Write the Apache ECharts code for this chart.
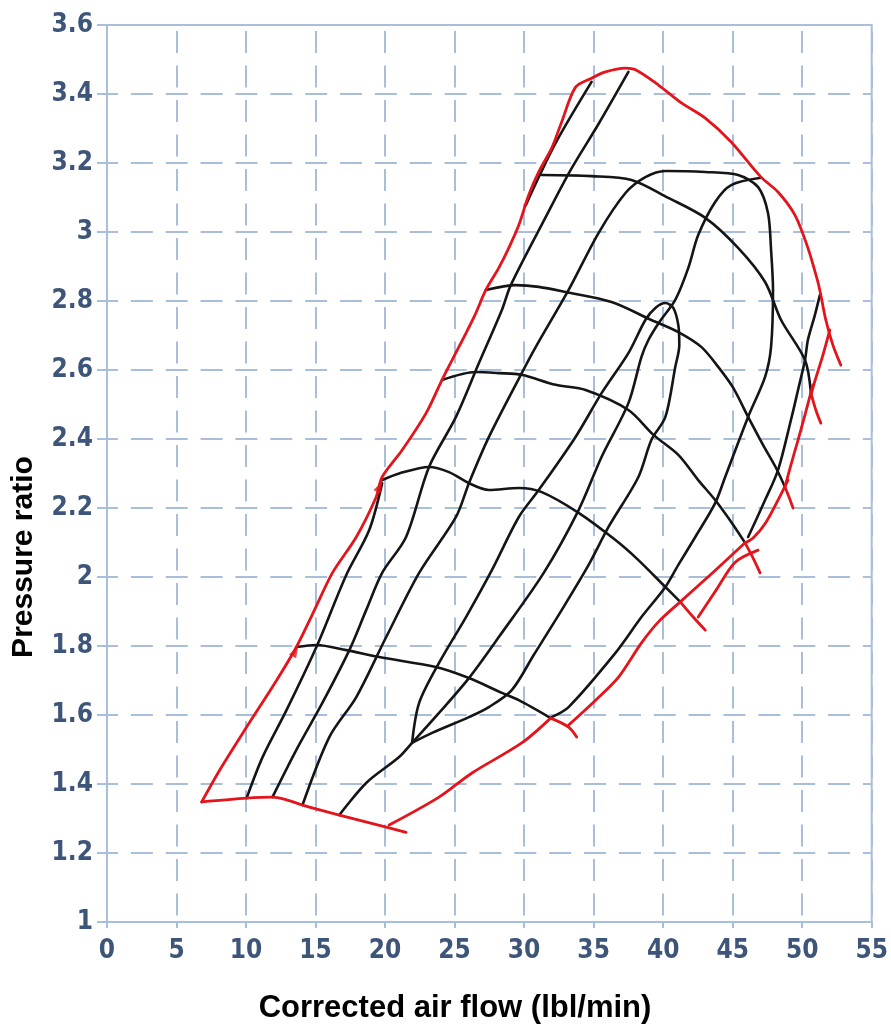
<!DOCTYPE html>
<html>
<head>
<meta charset="utf-8">
<title>Compressor map</title>
<script src="https://cdn.jsdelivr.net/npm/echarts/dist/echarts.min.js"></script>
<style>
  html, body { margin: 0; padding: 0; background: #ffffff; }
  #chart { width: 891px; height: 1025px; }
</style>
</head>
<body>
<div id="chart"></div>
<script>
// ---- axes ----
const xRange = { min: 0, max: 55, step: 5 };
const yRange = { min: 1, max: 3.6, step: 0.2 };
const xTitle = 'Corrected air flow (lbl/min)';
const yTitle = 'Pressure ratio';

// ---- red boundaries: surge line + crest, base line, choke strokes (flow, pressure ratio) ----
const surgeAndCrest = [
  [6.81,1.348],[8.10,1.44],[10.04,1.565],[12.19,1.70],[13.62,1.797],[14.92,1.904],[16.21,2.012],
  [17.93,2.116],[19.36,2.232],[19.79,2.290],[21.23,2.368],[22.95,2.475],[24.09,2.571],[25.82,2.707],
  [26.46,2.759],[27.25,2.832],[28.18,2.896],[28.90,2.954],[29.62,3.020],[30.33,3.107],[31.05,3.174],
  [31.98,3.243],[32.70,3.319],[33.70,3.420],[34.85,3.446],[35.85,3.464],[37.29,3.475],[38.01,3.470],
  [39.66,3.426],[41.31,3.374],[43.03,3.330],[44.89,3.261],[47.04,3.159],[48.26,3.116],[49.48,3.049],
  [50.41,2.954],[51.13,2.855],[51.34,2.817],[51.70,2.745],[52.21,2.672],[52.78,2.614]
];
// small arrowheads drawn on the surge line
const surgeArrows = [[19.62,2.262],[13.55,1.785]];
const baseLine = [
  [6.81,1.348],[10.04,1.359],[11.90,1.362],[12.91,1.354],[14.06,1.339],[16.71,1.310],[20.08,1.275],[21.51,1.26]
];
const chokeA = [[51.99,2.716],[51.49,2.643],[50.98,2.577],[50.63,2.528]];
const chokeB = [[50.77,2.557],[50.20,2.470],[49.70,2.397],[49.19,2.325],[48.76,2.261]];
const chokeC = [[48.98,2.281],[48.26,2.223],[47.40,2.159],[46.47,2.113],[45.89,2.099]];
const chokeD = [[46.83,2.078],[45.18,2.043],[43.81,1.962],[42.52,1.884]];
const chokeE = [[45.89,2.099],[43.60,2.014],[41.23,1.928],[39.66,1.870],[38.44,1.809],[36.79,1.710],[35.14,1.643],[33.20,1.571]];
const chokeF = [[31.91,1.591],[29.83,1.519],[26.25,1.432],[23.88,1.362],[20.29,1.281]];
// short end ticks where speed lines meet the choke line
const tick5 = [[50.63,2.533],[50.98,2.484],[51.34,2.446]];
const tick4 = [[48.76,2.261],[49.05,2.232],[49.34,2.200]];
const tick3 = [[45.89,2.099],[46.47,2.055],[46.97,2.012]];
const tick2 = [[41.23,1.928],[42.16,1.884],[43.03,1.846]];
const tick1 = [[31.91,1.591],[33.20,1.565],[33.78,1.536]];

// ---- speed lines ----
const speed1 = [[13.62,1.797],[15.06,1.803],[17.21,1.788],[19.58,1.768],[23.66,1.739],[26.03,1.707],[28.40,1.664],[29.62,1.643],[31.91,1.591]];
const speed2 = [[19.79,2.281],[21.01,2.300],[23.16,2.319],[24.60,2.304],[26.03,2.272],[27.47,2.252],[29.62,2.258],[31.27,2.246],[33.92,2.186],[36.57,2.107],[38.22,2.049],[40.16,1.971],[41.23,1.928]];
const speed3 = [[24.09,2.571],[26.53,2.594],[28.18,2.591],[29.83,2.586],[32.27,2.557],[34.42,2.542],[37.50,2.484],[39.30,2.412],[41.09,2.354],[42.52,2.281],[43.74,2.223],[45.04,2.151],[45.89,2.099]];
const speed4 = [[27.25,2.832],[29.40,2.846],[31.05,2.841],[32.99,2.826],[36.29,2.797],[39.15,2.745],[41.09,2.710],[42.74,2.667],[43.96,2.609],[45.04,2.548],[46.11,2.464],[47.18,2.383],[48.12,2.316],[48.76,2.261]];
const speed5 = [[31.27,3.165],[34.85,3.162],[37.72,3.151],[40.37,3.099],[43.03,3.041],[45.39,2.954],[47.33,2.855],[48.48,2.745],[50.20,2.629],[50.63,2.533]];

// ---- efficiency contours ----
const effLeft1 = [[10.04,1.359],[11.19,1.478],[12.91,1.614],[15.06,1.797],[17.21,2.006],[18.86,2.136],[19.79,2.272]];
const effLeft2 = [[11.90,1.362],[13.62,1.499],[15.49,1.635],[17.43,1.788],[18.64,1.904],[19.79,2.012],[21.51,2.116],[23.16,2.319],[25.10,2.464],[26.75,2.620],[28.40,2.774],[29.04,2.846],[31.55,3.043],[33.35,3.180],[35.35,3.313],[37.50,3.464]];
const effTop = [[30.12,3.078],[32.27,3.258],[34.85,3.435]];
const effOuter = [[14.06,1.339],[15.99,1.536],[17.93,1.652],[20.08,1.826],[22.45,2.012],[25.10,2.174],[26.03,2.272],[27.47,2.406],[29.83,2.591],[30.84,2.667],[33.20,2.832],[35.35,2.997],[37.29,3.113],[38.72,3.159],[40.16,3.177],[43.03,3.174],[45.39,3.165],[46.83,3.130],[47.54,3.055],[47.76,2.948],[47.90,2.832],[47.76,2.667],[47.33,2.580],[46.11,2.464],[44.46,2.290],[43.74,2.214],[42.31,2.116],[41.09,2.035],[40.16,1.971],[38.44,1.884],[36.57,1.780],[33.20,1.623],[31.98,1.594]];
const effMiddle = [[47.04,3.157],[44.89,3.136],[43.74,3.087],[42.52,2.991],[41.81,2.896],[40.87,2.803],[39.73,2.739],[38.94,2.687],[38.44,2.638],[37.50,2.504],[35.57,2.348],[33.92,2.194],[31.41,2.012],[28.18,1.826],[26.03,1.707],[23.88,1.606],[21.94,1.519],[21.01,1.478],[18.64,1.403],[16.71,1.310]];
const effIsland = [[21.94,1.519],[22.45,1.635],[23.88,1.751],[25.82,1.884],[27.68,2.020],[29.62,2.174],[31.05,2.252],[33.70,2.406],[35.57,2.533],[37.50,2.649],[38.72,2.745],[39.44,2.780],[40.16,2.794],[40.73,2.780],[41.09,2.730],[41.16,2.672],[40.87,2.609],[40.16,2.464],[39.15,2.397],[38.22,2.290],[36.07,2.145],[34.64,2.035],[32.70,1.904],[30.69,1.774],[29.11,1.672],[27.47,1.623],[26.03,1.594],[23.38,1.548],[21.94,1.519]];
const effRight = [[51.27,2.817],[50.91,2.759],[50.41,2.687],[50.20,2.629],[49.70,2.542],[49.19,2.455],[48.26,2.310],[47.33,2.223],[46.11,2.116]];

const RED = '#e3141b';
const BLACK = '#151515';
const GRID_BLUE = '#a9bedb';
const LABEL_BLUE = '#3d5578';

const redPaths = [surgeAndCrest, baseLine, chokeA, chokeB, chokeC, chokeD, chokeE, chokeF, tick5, tick4, tick3, tick2, tick1];
const blackPaths = [speed1, speed2, speed3, speed4, speed5, effLeft1, effLeft2, effTop, effOuter, effMiddle, effIsland, effRight];

function path(data, color, width) {
  return {
    type: 'line', data: data, smooth: 0.3, symbol: 'none', silent: true,
    lineStyle: { color: color, width: width, cap: 'round', join: 'round' },
    z: color === RED ? 3 : 2
  };
}

const series = [];
blackPaths.forEach(d => series.push(path(d, BLACK, 2.6)));
redPaths.forEach(d => series.push(path(d, RED, 2.8)));
// arrowheads along the surge line, pointing up the line
series.push({
  type: 'scatter', data: surgeArrows, symbol: 'triangle', symbolSize: [8, 12], symbolRotate: -28,
  itemStyle: { color: RED }, silent: true, z: 4
});

const labelFont = "'Liberation Sans Narrow', 'DejaVu Sans Condensed', sans-serif";

const chart = echarts.init(document.getElementById('chart'), null, { renderer: 'canvas' });
chart.setOption({
  animation: false,
  backgroundColor: '#ffffff',
  grid: { left: 107, top: 25, width: 767, height: 897, show: true, borderColor: GRID_BLUE, borderWidth: 2, backgroundColor: 'transparent' },
  xAxis: {
    type: 'value', min: xRange.min, max: xRange.max, interval: xRange.step,
    axisLine: { show: true, lineStyle: { color: GRID_BLUE, width: 2 } },
    axisTick: { show: true, length: 6, lineStyle: { color: GRID_BLUE, width: 2 } },
    axisLabel: { margin: 16, color: LABEL_BLUE, fontSize: 26, fontWeight: 'bold', fontFamily: labelFont },
    splitLine: { show: true, lineStyle: { color: GRID_BLUE, width: 2, type: [22, 12.5], dashOffset: 28.5 } }
  },
  yAxis: {
    type: 'value', min: yRange.min, max: yRange.max, interval: yRange.step,
    axisLine: { show: true, lineStyle: { color: GRID_BLUE, width: 2 } },
    axisTick: { show: true, length: 10, lineStyle: { color: GRID_BLUE, width: 2 } },
    axisLabel: {
      margin: 14, color: LABEL_BLUE, fontSize: 26, fontWeight: 'bold', fontFamily: labelFont,
      formatter: v => String(Math.round(v * 10) / 10)
    },
    splitLine: { show: true, lineStyle: { color: GRID_BLUE, width: 2, type: [22, 12.86], dashOffset: 11 } }
  },
  graphic: [
    {
      type: 'text', x: 24, y: 557, rotation: Math.PI / 2,
      style: { text: yTitle, fill: '#000', font: "bold 30px 'Liberation Sans', Arial, sans-serif", textAlign: 'center', textVerticalAlign: 'middle' }
    },
    {
      type: 'text', x: 455, y: 1008,
      style: { text: xTitle, fill: '#000', font: "bold 31px 'Liberation Sans', Arial, sans-serif", textAlign: 'center', textVerticalAlign: 'middle' }
    }
  ],
  series: series
});
</script>
</body>
</html>
